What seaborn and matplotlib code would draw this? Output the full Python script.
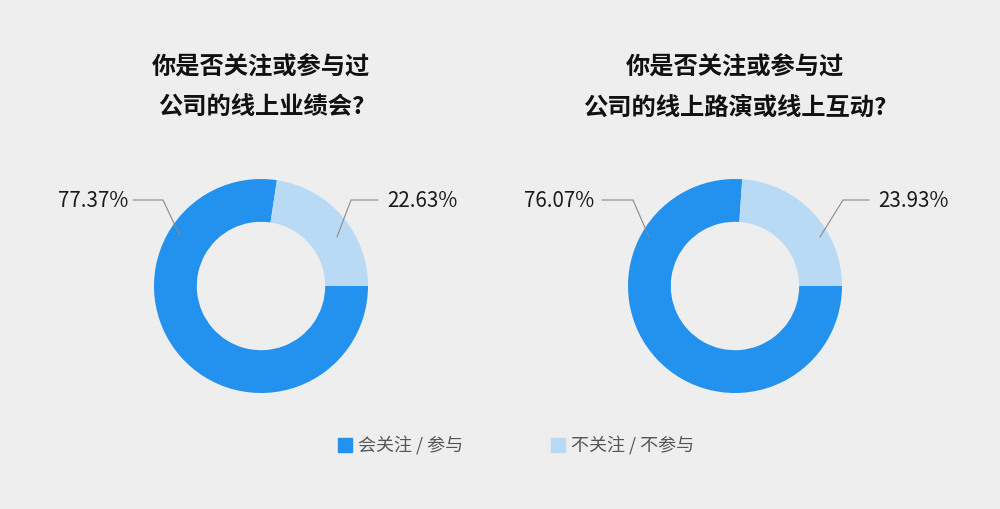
import matplotlib
matplotlib.use('Agg')
import matplotlib.pyplot as plt
from matplotlib.lines import Line2D
import seaborn as sns

# data
categories = ['会关注 / 参与', '不关注 / 不参与']
titles = [['你是否关注或参与过', '公司的线上业绩会?'],
          ['你是否关注或参与过', '公司的线上路演或线上互动?']]
share_yes = [77.37, 76.07]
share_no = [22.63, 23.93]

sns.set_theme(style='white')
plt.rcParams['font.family'] = ['Noto Sans CJK SC', 'DejaVu Sans']

colors = ['#2391ee', '#b8daf5']
bg = '#eeeeee'
R = 107.0  # pixels per data unit

fig = plt.figure(figsize=(10, 5.09), dpi=100, facecolor=bg)

centers = [(261, 286), (735, 286)]
# label geometry in pixels relative to centre: start, elbow, end, text x
geo = [
    [(-81, 50), (-98, 86), (-128, 86), -133],
    [(76, 49), (90, 86), (117, 86), 126],
    [(-86, 49), (-102, 86), (-133, 86), -141],
    [(85, 49), (108, 86), (134, 86), 143],
]

for i, (cx, cy) in enumerate(centers):
    left = 0.5 * i
    ax = fig.add_axes([left, 0, 0.5, 1])
    ax.set_facecolor(bg)
    vals = [share_yes[i], share_no[i]]
    ax.pie(vals, colors=colors, startangle=0, counterclock=False,
           radius=1.0, wedgeprops=dict(width=0.4, edgecolor='none', linewidth=0))
    x0 = 500 * i
    ax.set_xlim(-(cx - x0) / R, (x0 + 500 - cx) / R)
    ax.set_ylim(-(509 - cy) / R, cy / R)
    ax.set_aspect('auto')
    ax.axis('off')

    for k, txt in enumerate(titles[i]):
        ty = [67, 108][k]
        ax.text(0, (cy - ty) / R, txt, ha='center', va='center',
                fontsize=17.5, fontweight='bold', color='#111111')

    for j, v in enumerate(vals):
        (sx, sy), (ex, ey), (lx, ly), tx = geo[2 * i + j]
        ax.plot([sx / R, ex / R, lx / R], [sy / R, ey / R, ly / R],
                color='#8a8a8a', lw=0.8)
        ax.text(tx / R, 85 / R, f'{v:.2f}%', ha='right' if tx < 0 else 'left',
                va='center', fontsize=14.8, color='#1a1a1a')

handles = [Line2D([], [], marker='s', linestyle='', markersize=10.5,
                  markerfacecolor=c, markeredgecolor=c) for c in colors]
fig.legend(handles, categories, loc='center', bbox_to_anchor=(0.515, 1 - 446 / 509),
           ncol=2, frameon=False, fontsize=13, labelcolor='#555555',
           handlelength=1.0, handletextpad=0.2, columnspacing=4.8)

fig.savefig('out.png', dpi=100, facecolor=bg)
